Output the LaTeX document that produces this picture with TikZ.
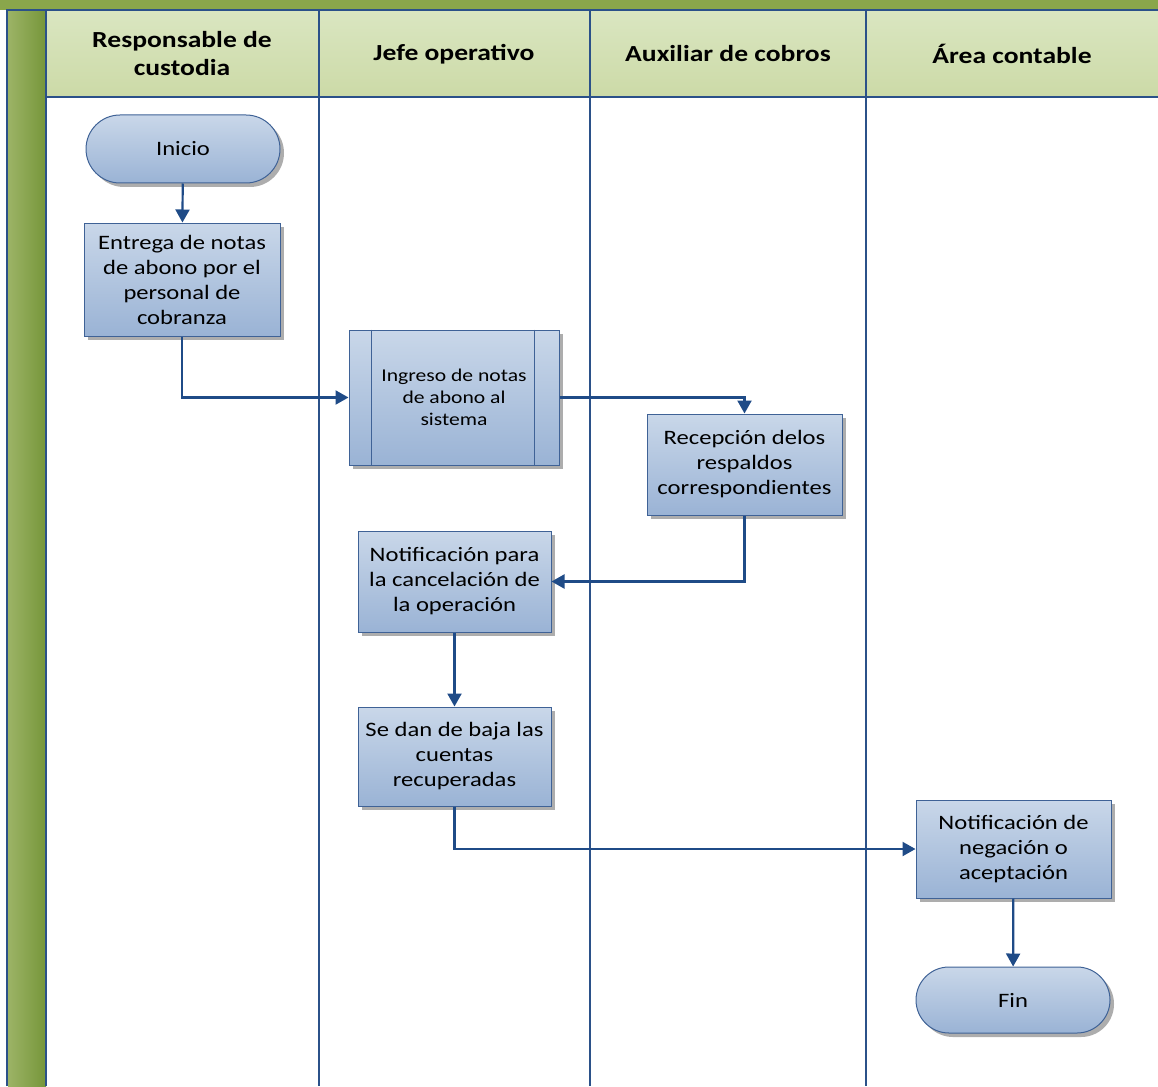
\documentclass[tikz,border=0pt]{standalone}
\usepackage{fontspec}
\setmainfont[FakeStretch=1.2]{Carlito}
\usetikzlibrary{shadows,arrows.meta}
\definecolor{lanegreen}{HTML}{8AA64B}
\definecolor{lanegreendk}{HTML}{76963A}
\definecolor{headtop}{HTML}{DAE6C1}
\definecolor{headbot}{HTML}{CCDAA7}
\definecolor{laneline}{HTML}{2B5189}
\definecolor{boxtop}{HTML}{C9D7E9}
\definecolor{boxbot}{HTML}{9AB3D5}
\definecolor{boxedge}{HTML}{3F6296}
\definecolor{flow}{HTML}{1F4B87}
\tikzset{
  procbox/.style={draw=boxedge, line width=1pt, top color=boxtop, bottom color=boxbot,
    minimum width=194pt, minimum height=#1, align=center, inner sep=2pt,
    font=\fontsize{20.5}{25}\selectfont,
    drop shadow={shadow xshift=4pt, shadow yshift=-4pt, fill=black!40, opacity=0.8}},
  procbox/.default=100pt,
  termbox/.style={procbox=68pt, rounded corners=34pt},
  flowline/.style={draw=flow, line width=2.2pt, -{Triangle[length=13pt,width=14pt]}},
  lanehead/.style={font=\bfseries\fontsize{23}{28}\selectfont, align=center}
}
\begin{document}
\begin{tikzpicture}[x=1pt,y=-1pt]
\useasboundingbox (0,0) rectangle (1158,1086);
% pool frame: top band, header row and left strip
\fill[lanegreen] (0,0) rectangle (1158,10);
\shade[left color=lanegreen!85!white, right color=lanegreendk] (8,10) rectangle (46,1086);
\shade[top color=headtop, bottom color=headbot] (46,10) rectangle (1158,97);
\draw[laneline, line width=1.6pt] (7,1086) -- (7,10) -- (1158,10);
\draw[laneline, line width=1.6pt] (46,10) -- (46,1086);
\draw[laneline, line width=1.6pt] (46,97) -- (1158,97);
\foreach \x in {319,590,866} \draw[laneline, line width=1.6pt] (\x,10) -- (\x,1086);
% lane titles
\node[lanehead] (h1) at (182,54) {Responsable de\\custodia};
\node[lanehead] (h2) at (454,54) {Jefe operativo};
\node[lanehead] (h3) at (728,54) {Auxiliar de cobros};
\node[lanehead] (h4) at (1012,54) {Área contable};
% steps
\node[termbox] (inicio) at (183,149) {Inicio};
\node[procbox=113pt, minimum width=196pt] (entrega) at (182,279.5) {Entrega de notas\\de abono por el\\personal de\\cobranza};
\node[procbox=135pt, minimum width=210pt, font=\fontsize{18}{22}\selectfont] (ingreso) at (454,397.5) {Ingreso de notas\\de abono al\\sistema};
\draw[boxedge, line width=1pt] ([xshift=23pt]ingreso.north west) -- ([xshift=23pt]ingreso.south west)
  ([xshift=-25pt]ingreso.north east) -- ([xshift=-25pt]ingreso.south east);
\node[procbox=101pt, minimum width=195pt] (recep) at (744.5,464.5) {Recepción delos\\respaldos\\correspondientes};
\node[procbox=101pt, minimum width=193pt] (notif) at (454.5,581.5) {Notificación para\\la cancelación de\\la operación};
\node[procbox=99pt, minimum width=193pt] (baja) at (454.5,756.5) {Se dan de baja las\\cuentas\\recuperadas};
\node[procbox=98pt, minimum width=195pt] (negac) at (1013.5,849) {Notificación de\\negación o\\aceptación};
\node[termbox, minimum width=194pt, minimum height=66pt, rounded corners=33pt] (fin) at (1013,1000) {Fin};
% connectors
\draw[flowline] (inicio) -- (entrega);
\draw[flowline] (entrega.south) |- (ingreso.west);
\draw[flowline] (ingreso.east) -| (recep.north);
\draw[flowline] (recep.south) |- (notif.east);
\draw[flowline] (notif) -- (baja);
\draw[flowline] (baja.south) |- (negac.west);
\draw[flowline] (negac) -- (fin);
\end{tikzpicture}
\end{document}
